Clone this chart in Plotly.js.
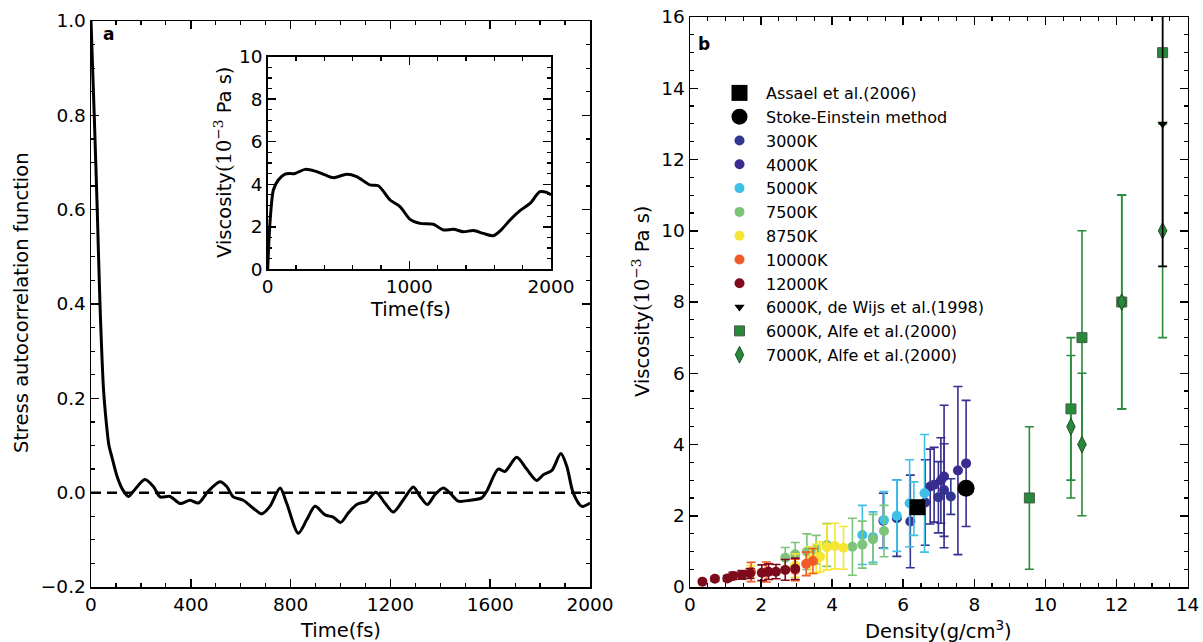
<!DOCTYPE html>
<html>
<head>
<meta charset="utf-8">
<script src="https://cdn.plot.ly/plotly-3.0.1.min.js"></script>
<style>html,body{margin:0;padding:0;background:#fff;}#chart{width:1203px;height:642px;}</style>
</head>
<body>
<div id="chart"></div>
<script>
// ---------- Panel a: stress autocorrelation function ----------
const acfTime = [0, 13, 25, 36, 50, 62, 72, 84, 103, 125, 150, 170, 216, 250, 277, 317, 357, 397, 430, 470, 517, 544, 570, 610, 650, 684, 717, 758, 784, 831, 865, 898, 938, 971, 1001, 1031, 1065, 1105, 1142, 1178, 1212, 1252, 1292, 1319, 1348, 1379, 1412, 1439, 1472, 1519, 1566, 1586, 1632, 1659, 1706, 1746, 1786, 1813, 1847, 1883, 1907, 1933, 1967, 2000];
const acfValue = [1.0, 0.80, 0.60, 0.40, 0.22, 0.145, 0.10, 0.075, 0.037, 0.008, -0.008, 0.003, 0.028, 0.013, -0.009, -0.008, -0.023, -0.016, -0.022, 0.003, 0.023, 0.013, -0.009, -0.016, -0.033, -0.045, -0.029, 0.010, -0.022, -0.086, -0.057, -0.029, -0.047, -0.052, -0.063, -0.043, -0.025, -0.018, 0.001, -0.022, -0.041, -0.015, 0.012, -0.008, -0.025, -0.004, 0.010, -0.001, -0.018, -0.016, -0.011, 0.003, 0.050, 0.045, 0.075, 0.050, 0.026, 0.038, 0.047, 0.083, 0.056, -0.001, -0.029, -0.022];

// ---------- Inset: running viscosity ----------
const viscTime = [0, 9, 21, 40, 75, 122, 193, 264, 334, 405, 464, 558, 628, 722, 781, 864, 934, 1005, 1075, 1169, 1240, 1311, 1381, 1452, 1522, 1593, 1652, 1711, 1781, 1852, 1922, 1969, 2000];
const viscValue = [0, 1.38, 2.63, 3.73, 4.2, 4.48, 4.51, 4.70, 4.62, 4.44, 4.31, 4.47, 4.36, 3.97, 3.93, 3.26, 2.95, 2.35, 2.16, 2.12, 1.85, 1.88, 1.77, 1.82, 1.69, 1.58, 1.88, 2.32, 2.76, 3.10, 3.65, 3.62, 3.50];

// ---------- Panel b: viscosity vs density ----------
const t3000Density = [5.44, 5.82, 6.20, 6.62, 6.99, 7.15, 7.34];
const t3000Visc    = [1.86, 1.93, 1.84, 2.37, 2.52, 2.72, 2.54];
const t3000Err     = [0.77, 1.07, 1.30, 1.20, 1.00, 1.30, 0.50];

const t4000Density = [6.76, 6.87, 7.06, 7.15, 7.54, 7.77];
const t4000Visc    = [2.82, 2.87, 2.99, 3.10, 3.27, 3.47];
const t4000Err     = [1.05, 1.05, 1.20, 2.00, 2.36, 1.77];

const t5000Density = [4.85, 5.15, 5.46, 5.82, 6.18, 6.30, 6.60];
const t5000Visc    = [1.46, 1.40, 1.88, 2.00, 2.35, 2.20, 2.63];
const t5000Err     = [0.83, 0.71, 0.80, 1.00, 1.22, 0.75, 1.65];

const t7500Density = [2.68, 2.96, 3.29, 3.55, 3.85, 4.57, 4.85, 5.15, 5.46];
const t7500Visc    = [0.82, 0.92, 0.99, 1.05, 1.18, 1.13, 1.19, 1.34, 1.57];
const t7500Err     = [0.29, 0.33, 0.50, 0.40, 0.60, 0.80, 0.66, 0.70, 0.72];

const t8750Density = [1.72, 2.96, 3.38, 3.55, 3.66, 3.85, 4.08, 4.32];
const t8750Visc    = [0.43, 0.60, 0.75, 0.80, 0.85, 1.12, 1.15, 1.10];
const t8750Err     = [0.17, 0.33, 0.38, 0.40, 0.42, 0.64, 0.64, 0.60];

const t10000Density = [1.72, 2.15, 2.96, 3.27, 3.46];
const t10000Visc    = [0.42, 0.42, 0.48, 0.65, 0.73];
const t10000Err     = [0.27, 0.28, 0.30, 0.33, 0.35];

const t12000Density = [0.35, 0.70, 1.05, 1.21, 1.46, 1.69, 2.02, 2.21, 2.42, 2.68, 2.96];
const t12000Visc    = [0.15, 0.23, 0.24, 0.31, 0.34, 0.38, 0.40, 0.43, 0.43, 0.48, 0.51];
const t12000Err     = [0.05, 0.06, 0.08, 0.10, 0.12, 0.14, 0.22, 0.22, 0.20, 0.29, 0.30];

const deWijsDensity = [13.3];
const deWijsVisc    = [13.0];
const deWijsErr     = [4.0];

const alfe6000Density = [9.55, 10.72, 11.03, 12.15, 13.3];
const alfe6000Visc    = [2.5, 5.0, 7.0, 8.0, 15.0];
const alfe6000Err     = [2.0, 2.0, 3.0, 3.0, 5.0];

const alfe7000Density = [10.72, 11.03, 12.15, 13.3];
const alfe7000Visc    = [4.5, 4.0, 8.0, 10.0];
const alfe7000Err     = [2.0, 2.0, 3.0, 3.0];

const assaelDensity = [6.40];
const assaelVisc    = [2.24];
const stokesDensity = [7.77];
const stokesVisc    = [2.77];

const seriesNames = ['Assael et al.(2006)', 'Stoke-Einstein method', '3000K', '4000K', '5000K', '7500K', '8750K', '10000K', '12000K', '6000K, de Wijs et al.(1998)', '6000K, Alfe et al.(2000)', '7000K, Alfe et al.(2000)'];
const seriesColors = ['#000000', '#000000', '#2f3790', '#3a2c8e', '#3fc0e6', '#7cc47a', '#f6e533', '#f05a29', '#7e0b1b', '#000000', '#268a3a', '#268a3a'];

const FONT = 'DejaVu Sans, Verdana, sans-serif';
const TICKF = {family: FONT, size: 18.5, color: '#000'};

function errTrace(x, y, err, idx, symbol, size, extra) {
  const c = seriesColors[idx];
  const t = {
    type: 'scatter', mode: 'markers', x: x, y: y,
    xaxis: 'x3', yaxis: 'y3',
    name: seriesNames[idx], legendrank: idx + 1,
    marker: {symbol: symbol, size: size, color: c, line: {width: 0}},
    error_y: {type: 'data', array: err, visible: true, color: c, thickness: 1.6, width: 4.5},
    hoverinfo: 'x+y+name'
  };
  return Object.assign(t, extra || {});
}

const traces = [
  {type: 'scatter', mode: 'lines', x: acfTime, y: acfValue, xaxis: 'x', yaxis: 'y',
   line: {color: '#000', width: 3, shape: 'spline', smoothing: 0.8}, showlegend: false},
  {type: 'scatter', mode: 'lines', x: viscTime, y: viscValue, xaxis: 'x2', yaxis: 'y2',
   line: {color: '#000', width: 3, shape: 'spline', smoothing: 0.8}, showlegend: false},
  errTrace(t3000Density, t3000Visc, t3000Err, 2, 'circle', 10),
  errTrace(t4000Density, t4000Visc, t4000Err, 3, 'circle', 10),
  errTrace(t5000Density, t5000Visc, t5000Err, 4, 'circle', 10),
  errTrace(t7500Density, t7500Visc, t7500Err, 5, 'circle', 10),
  errTrace(t8750Density, t8750Visc, t8750Err, 6, 'circle', 10),
  errTrace(t10000Density, t10000Visc, t10000Err, 7, 'circle', 10),
  errTrace(t12000Density, t12000Visc, t12000Err, 8, 'circle', 10),
  errTrace(alfe6000Density, alfe6000Visc, alfe6000Err, 10, 'square', 10,
    {marker: {symbol: 'square', size: 10, color: seriesColors[10], line: {width: 1, color: '#4a5a4a'}}}),
  errTrace(alfe7000Density, alfe7000Visc, alfe7000Err, 11, 'diamond-tall', 12,
    {marker: {symbol: 'diamond-tall', size: 12, color: seriesColors[11], line: {width: 1, color: '#1d4d25'}}}),
  errTrace(deWijsDensity, deWijsVisc, deWijsErr, 9, 'triangle-down', 9),
  {type: 'scatter', mode: 'markers', x: assaelDensity, y: assaelVisc, xaxis: 'x3', yaxis: 'y3',
   name: seriesNames[0], legendrank: 1, marker: {symbol: 'square', size: 16, color: '#000'}},
  {type: 'scatter', mode: 'markers', x: stokesDensity, y: stokesVisc, xaxis: 'x3', yaxis: 'y3',
   name: seriesNames[1], legendrank: 2, marker: {symbol: 'circle', size: 17, color: '#000'}}
];

function ax(extra) {
  return Object.assign({
    showline: true, linecolor: '#000', linewidth: 1.5, mirror: 'ticks',
    ticks: 'inside', ticklen: 8, tickwidth: 1.5, tickcolor: '#000',
    showgrid: false, zeroline: false, tickfont: TICKF, fixedrange: true
  }, extra);
}
function minor(d) { return {dtick: d, ticks: 'inside', ticklen: 4, tickwidth: 1.2, tickcolor: '#000', showgrid: false}; }

const W = 1203, H = 642;
const px = v => v / W, py = v => 1 - v / H;

function label(text, x, y, size, angle) {
  return {text: text, xref: 'paper', yref: 'paper', x: px(x), y: py(y), xanchor: 'center', yanchor: 'middle',
          textangle: angle || 0, showarrow: false, font: {family: FONT, size: size, color: '#000'}};
}
const viscTitle = 'Viscosity<span style="font-family:DejaVu Serif">(10<sup>−3</sup></span> Pa s)';

const layout = {
  width: W, height: H,
  margin: {l: 0, r: 0, t: 0, b: 0},
  paper_bgcolor: '#fff', plot_bgcolor: 'rgba(0,0,0,0)',
  showlegend: true,
  legend: {x: px(713), y: py(76), xanchor: 'left', yanchor: 'top', bgcolor: 'rgba(0,0,0,0)',
           font: {family: FONT, size: 16, color: '#000'}, itemwidth: 43, tracegroupgap: 0},
  xaxis: ax({domain: [px(91), px(590)], anchor: 'y', range: [0, 2000], tick0: 0, dtick: 400, minor: minor(100)}),
  yaxis: ax({domain: [py(587), py(21)], anchor: 'x', range: [-0.2, 1.0], tick0: -0.2, dtick: 0.2, tickformat: '.1f', minor: minor(0.05)}),
  xaxis2: ax({domain: [px(267.7), px(551)], anchor: 'y2', range: [0, 2000], tick0: 0, dtick: 1000, minor: minor(200)}),
  yaxis2: ax({domain: [py(269.3), py(56.7)], anchor: 'x2', range: [0, 10], tick0: 0, dtick: 2, minor: minor(0.5)}),
  xaxis3: ax({domain: [px(690), px(1187.5)], anchor: 'y3', range: [0, 14], tick0: 0, dtick: 2, minor: minor(0.5)}),
  yaxis3: ax({domain: [py(587), py(17)], anchor: 'x3', range: [0, 16], tick0: 0, dtick: 2, minor: minor(0.5)}),
  shapes: [
    {type: 'line', xref: 'x domain', x0: 0, x1: 1, yref: 'y', y0: 0, y1: 0,
     line: {color: '#000', width: 2.5, dash: '10px,6px'}, layer: 'below'},
    {type: 'rect', xref: 'x2 domain', x0: 0, x1: 1, yref: 'y2 domain', y0: 0, y1: 1,
     fillcolor: '#fff', line: {width: 0}, layer: 'below'}
  ],
  annotations: [
    label('<b>a</b>', 108, 34, 17),
    label('<b>b</b>', 704, 44, 17),
    label('Time(fs)', 340, 630, 19.5),
    label('Stress autocorrelation function', 21, 303, 19.5, -90),
    label('Time(fs)', 410, 310, 19.5),
    label(viscTitle, 223, 163, 19.5, -90),
    label('Density(g/cm<sup>3</sup>)', 938, 630, 19.5),
    label(viscTitle, 641, 302, 19.5, -90)
  ]
};

Plotly.newPlot('chart', traces, layout, {staticPlot: true, displayModeBar: false});
</script>
</body>
</html>
